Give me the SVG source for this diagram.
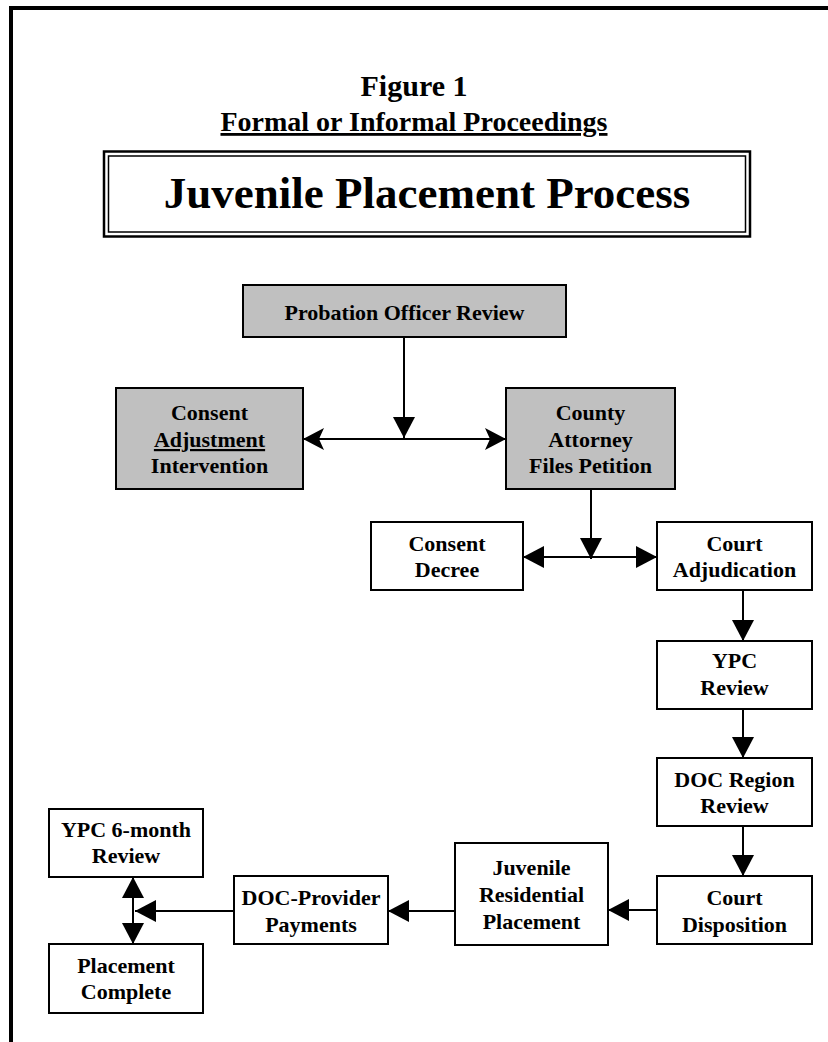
<svg xmlns="http://www.w3.org/2000/svg" width="828" height="1042" viewBox="0 0 828 1042">
<style>
.t{font-family:"Liberation Serif","Times New Roman",serif;font-weight:bold;fill:#000;text-anchor:middle}
.n{font-size:22px}
.box{stroke:#000;stroke-width:2;fill:#fff}
.gray{fill:#c0c0c0}
.c{stroke:#000;stroke-width:2;fill:none}
</style>
<defs>
<marker id="ah" markerUnits="userSpaceOnUse" markerWidth="22" markerHeight="22" refX="21" refY="11" orient="auto-start-reverse" overflow="visible">
<path d="M0,0 L21,11 L0,22 z" fill="#000"/>
</marker>
<marker id="as" markerUnits="userSpaceOnUse" markerWidth="22" markerHeight="22" refX="21" refY="11" orient="auto-start-reverse" overflow="visible">
<path d="M0,0 L21,11 L0,22 L5,11 z" fill="#000"/>
</marker>
</defs>
<rect width="828" height="1042" fill="#fff"/>
<path d="M11,1042 V8 H828" fill="none" stroke="#000" stroke-width="4"/>
<g id="heading">
<text class="t" x="414" y="96" font-size="30">Figure 1</text>
<text class="t" x="414" y="131" font-size="28" text-decoration="underline">Formal or Informal Proceedings</text>
</g>
<g id="title">
<rect x="104" y="151.5" width="646" height="85" fill="none" stroke="#000" stroke-width="2.5"/>
<rect x="108.5" y="156" width="637" height="76" fill="none" stroke="#000" stroke-width="1.5"/>
<text class="t" x="427" y="208" font-size="45">Juvenile Placement Process</text>
</g>
<g id="connectors">
<path class="c" d="M404,337 V438" marker-end="url(#ah)"/>
<path class="c" d="M303,439 H506" marker-start="url(#as)" marker-end="url(#as)"/>
<path class="c" d="M591,488 V559" marker-end="url(#ah)"/>
<path class="c" d="M523,557 H657" marker-start="url(#ah)" marker-end="url(#ah)"/>
<path class="c" d="M743,590 V641" marker-end="url(#ah)"/>
<path class="c" d="M743,709 V758" marker-end="url(#ah)"/>
<path class="c" d="M743,826 V876" marker-end="url(#ah)"/>
<path class="c" d="M657,910 H608" marker-end="url(#ah)"/>
<path class="c" d="M455,911 H388" marker-end="url(#ah)"/>
<path class="c" d="M234,911 H135" marker-end="url(#ah)"/>
<path class="c" d="M133,877 V944" marker-start="url(#ah)" marker-end="url(#ah)"/>
</g>
<g id="probation">
<rect class="box gray" x="243" y="285" width="323" height="52"/>
<text class="t n" x="404.5" y="320">Probation Officer Review</text>
</g>
<g id="consent-adjustment">
<rect class="box gray" x="116" y="388" width="187" height="101"/>
<text class="t n" x="209.5" y="420">Consent</text>
<text class="t n" x="209.5" y="447" text-decoration="underline">Adjustment</text>
<text class="t n" x="209.5" y="473">Intervention</text>
</g>
<g id="county-attorney">
<rect class="box gray" x="506" y="388" width="169" height="101"/>
<text class="t n" x="590.5" y="420">County</text>
<text class="t n" x="590.5" y="447">Attorney</text>
<text class="t n" x="590.5" y="473">Files Petition</text>
</g>
<g id="consent-decree">
<rect class="box" x="371" y="522" width="152" height="68"/>
<text class="t n" x="447" y="551">Consent</text>
<text class="t n" x="447" y="577">Decree</text>
</g>
<g id="court-adjudication">
<rect class="box" x="657" y="522" width="155" height="68"/>
<text class="t n" x="734.5" y="551">Court</text>
<text class="t n" x="734.5" y="577">Adjudication</text>
</g>
<g id="ypc-review">
<rect class="box" x="657" y="641" width="155" height="68"/>
<text class="t n" x="734.5" y="668">YPC</text>
<text class="t n" x="734.5" y="695">Review</text>
</g>
<g id="doc-region">
<rect class="box" x="657" y="758" width="155" height="68"/>
<text class="t n" x="734.5" y="787">DOC Region</text>
<text class="t n" x="734.5" y="813">Review</text>
</g>
<g id="court-disposition">
<rect class="box" x="657" y="876" width="155" height="68"/>
<text class="t n" x="734.5" y="905">Court</text>
<text class="t n" x="734.5" y="932">Disposition</text>
</g>
<g id="juvenile-residential">
<rect class="box" x="455" y="843" width="153" height="102"/>
<text class="t n" x="531.5" y="875">Juvenile</text>
<text class="t n" x="531.5" y="902">Residential</text>
<text class="t n" x="531.5" y="929">Placement</text>
</g>
<g id="doc-provider">
<rect class="box" x="234" y="876" width="154" height="68"/>
<text class="t n" x="311" y="905">DOC-Provider</text>
<text class="t n" x="311" y="932">Payments</text>
</g>
<g id="ypc-6month">
<rect class="box" x="49" y="809" width="154" height="68"/>
<text class="t n" x="126" y="837">YPC 6-month</text>
<text class="t n" x="126" y="863">Review</text>
</g>
<g id="placement-complete">
<rect class="box" x="49" y="944" width="154" height="69"/>
<text class="t n" x="126" y="973">Placement</text>
<text class="t n" x="126" y="999">Complete</text>
</g>
</svg>
